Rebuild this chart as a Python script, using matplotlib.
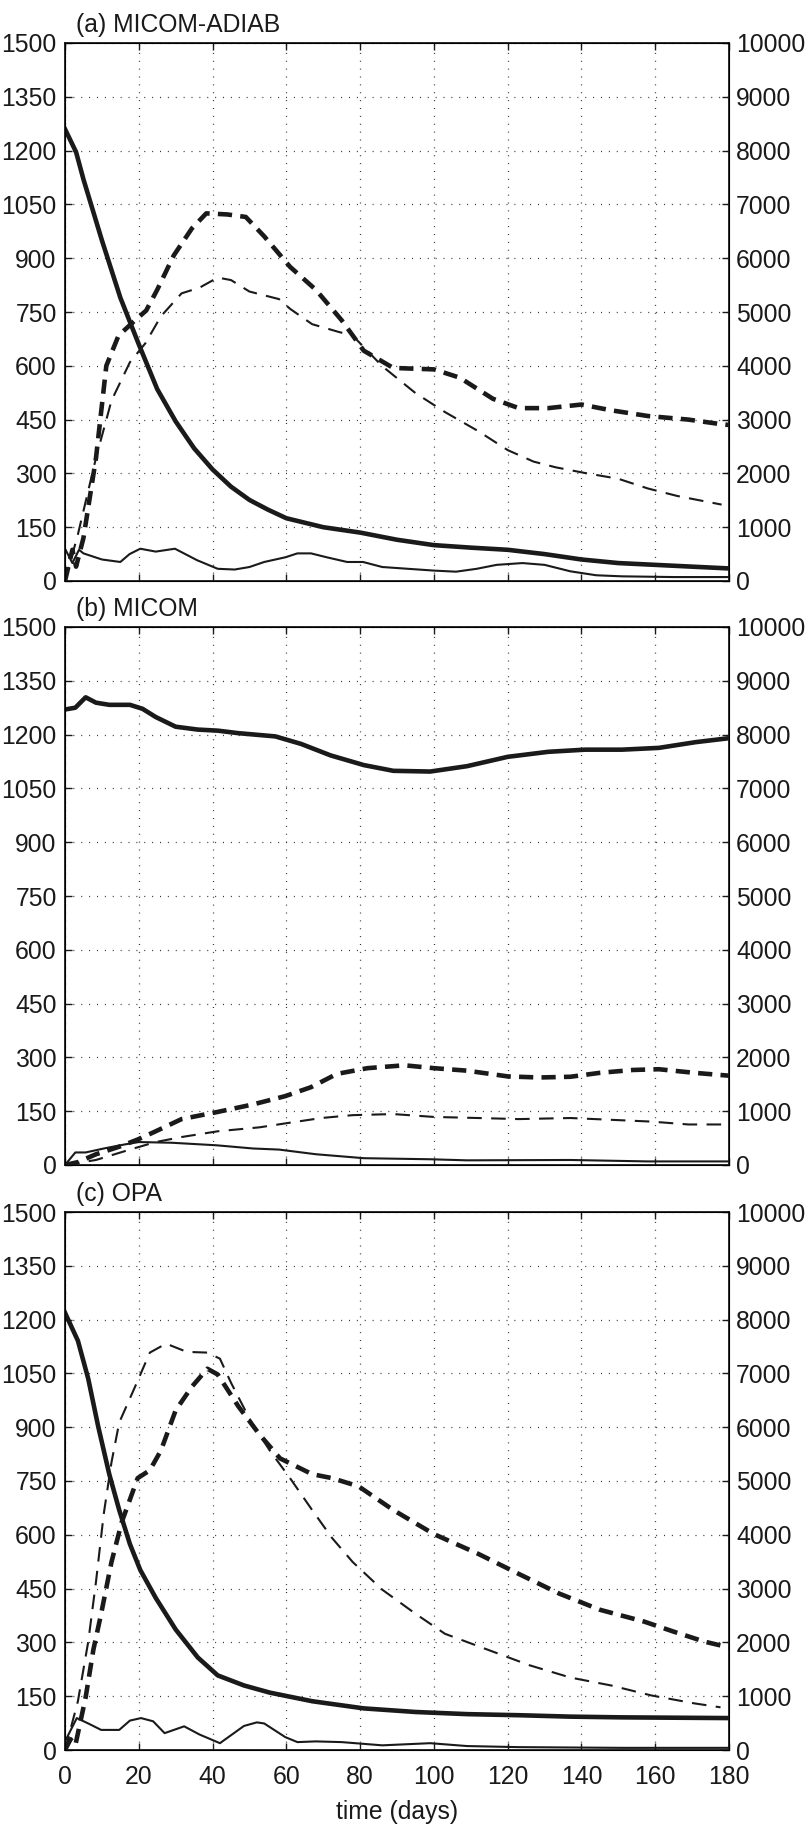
import matplotlib
matplotlib.use("Agg")
import matplotlib.pyplot as plt

plt.rcParams['font.family'] = ['Liberation Sans', 'DejaVu Sans']
plt.rcParams['font.size'] = 17.8

# ---- (a) MICOM-ADIAB ----
a_thick_t = [0, 3, 5, 10, 15, 20, 25, 30, 35, 40, 45, 50, 55, 60, 70, 80, 90, 100,
             110, 120, 130, 140, 150, 160, 170, 180]
a_thick_v = [1260, 1196, 1120, 950, 790, 660, 535, 445, 370, 311, 263, 226, 199, 175,
             150, 135, 115, 100, 93, 87, 75, 60, 50, 45, 40, 35]

a_thin_t = [0, 2, 3.8, 5, 10, 15, 17.5, 20.4, 24.6, 29.8, 35.8, 41.4, 46, 50, 54, 59.7,
            63, 66.7, 71, 76.5, 80.8, 86, 93, 100, 106, 111.6, 117, 124, 130, 137, 144,
            151, 165, 180]
a_thin_v = [90, 50, 87, 77, 60, 53, 75, 90, 82, 90, 58, 34, 32, 39, 53, 66, 77, 77, 66,
            53, 53, 39, 34, 29, 26, 34, 45, 50, 45, 27, 16, 13, 11, 11]

a_dthick_t = [0, 2, 3, 5, 8.4, 11.2, 14.5, 19, 22, 25, 29.5, 34.4, 38.3, 44, 49, 54,
              61, 68, 75, 81, 89, 100, 107, 116, 123, 131, 140, 148, 158, 169, 178, 180]
a_dthick_v = [0, 87, 40, 120, 343, 600, 684, 727, 754, 812, 908, 983, 1025, 1022, 1015,
              961, 876, 812, 727, 642, 594, 590, 567, 508, 482, 482, 492, 476, 460, 450,
              437, 435]

a_dthin_t = [0, 3.5, 8.4, 12.6, 17.6, 21.8, 26, 31.6, 36.5, 41.4, 45, 50, 58, 61, 67,
             74, 78, 86, 95, 103, 112, 120, 127, 133, 141, 150, 158, 166, 178]
a_dthin_v = [0, 130, 343, 503, 610, 663, 738, 802, 818, 846, 839, 807, 786, 759, 716,
             695, 684, 599, 524, 471, 418, 365, 333, 317, 301, 285, 258, 237, 213]

# ---- (b) MICOM ----
b_thick_t = [0, 2.8, 5.6, 8.4, 12, 17.6, 21, 24.6, 30, 36, 41.4, 47, 57, 64, 72, 81,
             89, 99, 109, 120, 131, 141, 151, 161, 171, 180]
b_thick_v = [1270, 1275, 1304, 1289, 1283, 1283, 1272, 1249, 1222, 1214, 1211, 1204,
             1195, 1174, 1142, 1115, 1099, 1097, 1112, 1138, 1152, 1158, 1158, 1163,
             1179, 1190]

b_thin_t = [0, 2.8, 5.6, 10.5, 16, 20, 29, 41, 51, 58, 68, 81, 99, 109, 137, 158, 180]
b_thin_v = [0, 35, 35, 46, 57, 64, 62, 55, 46, 43, 30, 19, 16, 13, 14, 10, 10]

b_dthick_t = [0, 3.5, 8.4, 14.7, 19.7, 24.6, 31.6, 41.4, 51, 59.7, 66.7, 73.7, 82, 92,
              100, 109, 120, 128.5, 137, 145, 154, 161, 170.6, 180]
b_dthick_v = [0, 8, 30, 51, 71, 94, 128, 148, 169, 192, 217, 254, 270, 278, 270, 263,
              247, 244, 246, 257, 265, 267, 257, 249]

b_dthin_t = [0, 8.4, 17.6, 24.6, 31.6, 41.4, 52.7, 61, 69.5, 78, 89, 100, 112, 123,
             137, 148, 159, 169, 179]
b_dthin_v = [0, 14, 43, 64, 78, 94, 105, 118, 131, 139, 142, 134, 131, 128, 131, 126,
             121, 113, 113]

# ---- (c) OPA ----
c_thick_t = [0, 3.5, 6.3, 9, 12, 14.7, 17.6, 20.4, 24.6, 30, 36, 41.4, 48.5, 55.5, 67,
             81, 95, 109, 123, 137, 151, 180]
c_thick_v = [1219, 1141, 1035, 902, 769, 669, 574, 502, 424, 336, 258, 208, 180, 160,
             136, 116, 106, 100, 97, 93, 91, 89]

c_thin_t = [0, 3.2, 6.3, 9.8, 14.7, 17.6, 20.6, 23.9, 27, 32.3, 36.5, 42, 48.5, 52,
            54, 59.7, 63, 68, 75, 86, 99, 109, 123, 151, 180]
c_thin_v = [24, 89, 74, 56, 56, 82, 89, 80, 47, 66, 43, 19, 67, 77, 74, 36, 22, 24, 22,
            13, 19, 11, 8, 6, 6]

c_dthick_t = [0, 1.5, 2.8, 5.6, 7.7, 9.8, 12.6, 15.4, 19.7, 23, 26, 30, 34.4, 38.6,
              41.4, 47, 52.7, 58.3, 67, 72.4, 79.6, 89, 100, 112, 123, 134, 145, 157,
              165, 173.4, 180]
c_dthick_v = [0, 30, 13, 147, 280, 380, 524, 636, 758, 780, 835, 947, 1013, 1063,
              1047, 958, 880, 813, 769, 758, 735, 669, 602, 547, 491, 436, 391, 358,
              330, 302, 286]

c_dthin_t = [0, 3.5, 6.3, 8.4, 10.5, 12.6, 14.7, 19, 23, 27.4, 33, 38.6, 42, 45, 50,
             55.5, 61, 67, 72.4, 78, 86, 95, 103, 114.5, 126, 137, 148, 159, 170.6,
             177.7]
c_dthin_v = [0, 136, 302, 469, 658, 802, 913, 1013, 1108, 1133, 1110, 1108, 1091, 1024,
             924, 835, 758, 669, 591, 524, 447, 380, 324, 280, 236, 202, 180, 152, 130,
             119]

titles = ['(a) MICOM-ADIAB', '(b) MICOM', '(c) OPA']
panels = [
    (a_thick_t, a_thick_v, a_thin_t, a_thin_v, a_dthick_t, a_dthick_v, a_dthin_t, a_dthin_v),
    (b_thick_t, b_thick_v, b_thin_t, b_thin_v, b_dthick_t, b_dthick_v, b_dthin_t, b_dthin_v),
    (c_thick_t, c_thick_v, c_thin_t, c_thin_v, c_dthick_t, c_dthick_v, c_dthin_t, c_dthin_v),
]
left_ticks = list(range(0, 1501, 150))
right_ticks = list(range(0, 10001, 1000))
x_ticks = list(range(0, 181, 20))

W, H = 811, 1828
fig = plt.figure(figsize=(W / 100, H / 100), dpi=100)
tops = [43, 627, 1212]
ph = 538
col = '#1a1a1a'

for i, (top, title, p) in enumerate(zip(tops, titles, panels)):
    ax = fig.add_axes([65 / W, 1 - (top + ph) / H, 664 / W, ph / H])
    t1, v1, t2, v2, t3, v3, t4, v4 = p
    ax.plot(t1, v1, color=col, lw=3.3, solid_joinstyle='round')
    ax.plot(t2, v2, color=col, lw=1.5)
    ax.plot(t3, v3, color=col, lw=3.3, linestyle=(0, (3.1, 1.8)))
    ax.plot(t4, v4, color=col, lw=1.5, linestyle=(0, (7.0, 4.5)))
    ax.set_xlim(0, 180)
    ax.set_ylim(0, 1500)
    ax.set_xticks(x_ticks)
    ax.set_yticks(left_ticks)
    ax.grid(True, color='#333333', linestyle=(0, (0.8, 5.5)), linewidth=0.9)
    ax.tick_params(direction='in', length=5, width=1, top=True, pad=6, colors=col)
    ax.tick_params(axis='x', pad=11)
    for s in ax.spines.values():
        s.set_linewidth(1.3)
        s.set_color(col)
    if i < 2:
        ax.set_xticklabels([])
    else:
        ax.set_xlabel('time (days)', labelpad=8, color=col)
    ax2 = ax.twinx()
    ax2.set_ylim(0, 10000)
    ax2.set_yticks(right_ticks)
    ax2.tick_params(direction='in', length=5, width=1, pad=5, colors=col)
    ax2.tick_params(axis='y', left=False)
    ax.text(0.017, 1.012, title, transform=ax.transAxes, ha='left', va='bottom',
            color=col)

fig.savefig('out.png', dpi=100)
